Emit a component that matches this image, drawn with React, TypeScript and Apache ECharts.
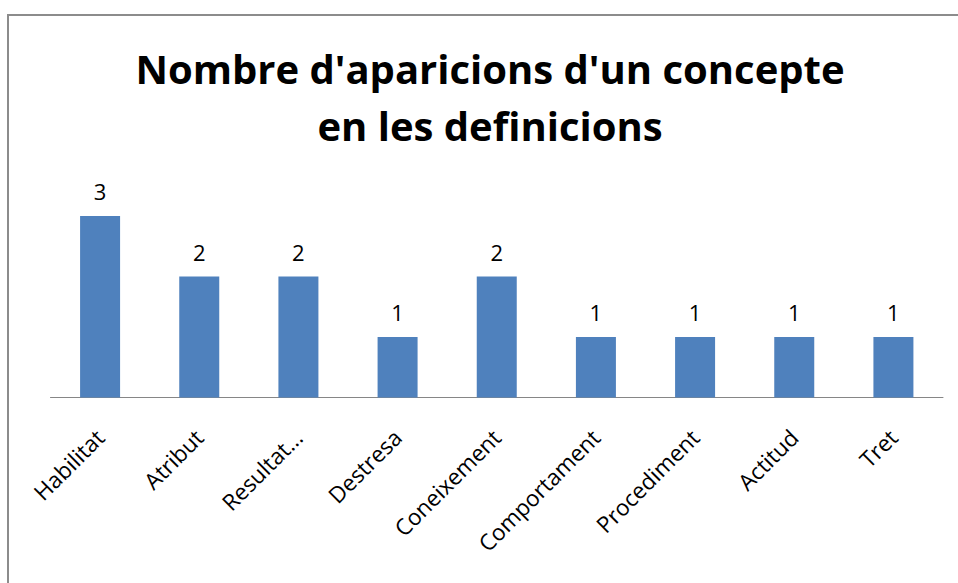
import React, { useEffect, useRef } from "react";
import * as echarts from "echarts";

const titleLines = ["Nombre d'aparicions d'un concepte", "en les definicions"];
const categories = [
  "Habilitat",
  "Atribut",
  "Resultat...",
  "Destresa",
  "Coneixement",
  "Comportament",
  "Procediment",
  "Actitud",
  "Tret",
];
const counts = [3, 2, 2, 1, 2, 1, 1, 1, 1];

export default function App() {
  const ref = useRef<HTMLDivElement>(null);
  useEffect(() => {
    if (!ref.current) return;
    const chart = echarts.init(ref.current, null, { renderer: "svg" });
    chart.setOption({
      animation: false,
      backgroundColor: "#ffffff",
      title: {
        text: titleLines.join("\n"),
        left: 490,
        top: 40,
        padding: 0,
        textAlign: "center",
        textStyle: {
          fontFamily: "Open Sans",
          fontWeight: "bold",
          fontSize: 40,
          lineHeight: 57,
          color: "#000000",
        },
      },
      graphic: [
        {
          type: "rect",
          shape: { x: 8, y: 15, width: 980, height: 600 },
          style: { fill: "none", stroke: "#8c8c8c", lineWidth: 2 },
          silent: true,
          z: -1,
        },
      ],
      grid: { left: 50.5, right: 15, top: 216, bottom: 185.5, containLabel: false },
      xAxis: {
        type: "category",
        data: categories,
        axisLine: { show: true, lineStyle: { color: "#868686", width: 1 } },
        axisTick: { show: false },
        axisLabel: {
          rotate: 45,
          interval: 0,
          margin: 36,
          fontFamily: "Open Sans",
          fontSize: 22.5,
          color: "#000000",
        },
      },
      yAxis: {
        type: "value",
        min: 0,
        max: 3,
        show: false,
        splitLine: { show: false },
      },
      series: [
        {
          type: "bar",
          data: counts,
          barWidth: 40,
          itemStyle: { color: "#4f81bd" },
          label: {
            show: true,
            position: "top",
            distance: 14,
            fontFamily: "Open Sans",
            fontSize: 22,
            color: "#000000",
          },
        },
      ],
    });
    return () => chart.dispose();
  }, []);
  return (
    <div
      ref={ref}
      style={{ position: "fixed", left: 0, top: 0, width: 958, height: 583 }}
    />
  );
}
